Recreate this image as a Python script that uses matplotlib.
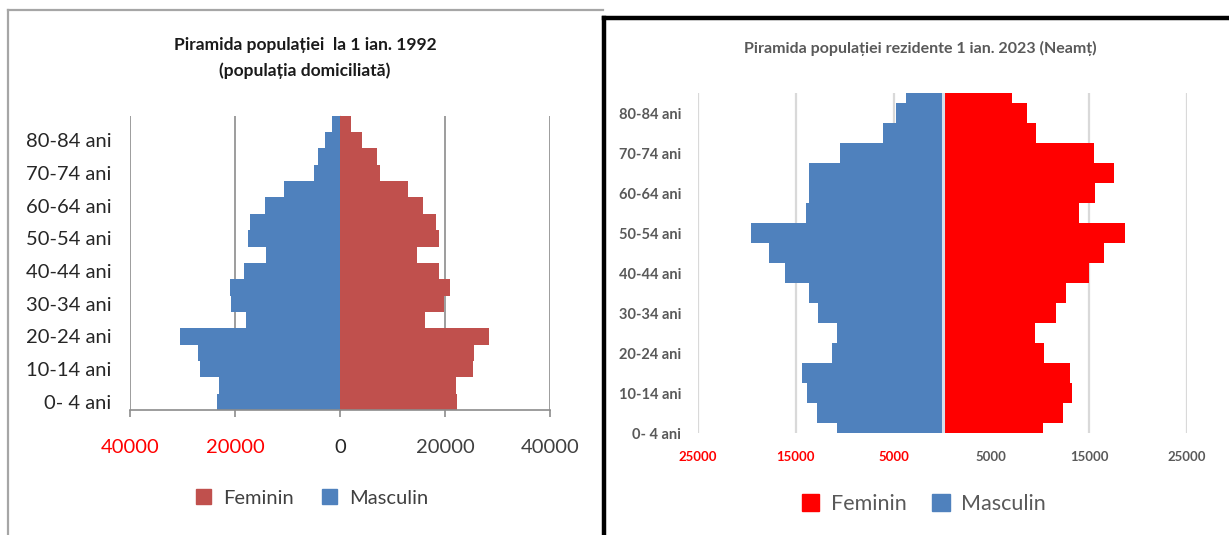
import matplotlib
matplotlib.use("Agg")
import matplotlib.pyplot as plt
from matplotlib.patches import Patch
from matplotlib.lines import Line2D

# ---------------- data ----------------
age_groups = ["0- 4 ani", "5-9 ani", "10-14 ani", "15-19 ani", "20-24 ani", "25-29 ani",
              "30-34 ani", "35-39 ani", "40-44 ani", "45-49 ani", "50-54 ani", "55-59 ani",
              "60-64 ani", "65-69 ani", "70-74 ani", "75-79 ani", "80-84 ani", "85+ ani"]

masc_1992 = [23500, 23100, 26600, 27000, 30500, 17900, 20700, 21000, 18300,
             14100, 17500, 17200, 14200, 10600, 5000, 4250, 2900, 1500]
fem_1992 = [22350, 22050, 25350, 25550, 28400, 16200, 19750, 21000, 18900,
            14700, 18900, 18200, 15800, 12900, 7700, 7000, 4250, 2100]

masc_2023 = [10800, 12880, 13900, 14350, 11310, 10770, 12680, 13600, 16150,
             17750, 19560, 13970, 13700, 13600, 10430, 6100, 4770, 3700]
fem_2023 = [10310, 12290, 13270, 13000, 10350, 9490, 11600, 12660, 14980,
            16550, 18700, 13960, 15560, 17540, 15460, 9560, 8640, 7070]

xticks_1992 = [-40000, -20000, 0, 20000, 40000]
xticklabels_1992 = ["40000", "20000", "0", "20000", "40000"]
xticks_2023 = [-25000, -15000, -5000, 5000, 15000, 25000]
xticklabels_2023 = ["25000", "15000", "5000", "5000", "15000", "25000"]

title_1992 = "Piramida populației  la 1 ian. 1992\n(populația domiciliată)"
title_2023 = "Piramida populației rezidente 1 ian. 2023 (Neamț)"

# ---------------- figure ----------------
W, H = 1229, 535
fig = plt.figure(figsize=(W / 100, H / 100), dpi=100)
fig.patch.set_facecolor("white")
plt.rcParams["font.family"] = ["Lato", "DejaVu Sans"]


def px_axes(x0, y0, x1, y1):
    return fig.add_axes([x0 / W, 1 - y1 / H, (x1 - x0) / W, (y1 - y0) / H])


ypos = list(range(len(age_groups)))

# ---------- left chart (1992) ----------
ax1 = px_axes(130, 115.7, 550, 410)
c_fem1, c_masc1 = "#C0504D", "#4F81BD"
ax1.barh(ypos, [-v for v in masc_1992], height=1.0, color=c_masc1, linewidth=0, zorder=2)
ax1.barh(ypos, fem_1992, height=1.0, color=c_fem1, linewidth=0, zorder=2)
ax1.set_xlim(-40000, 40000)
ax1.set_ylim(-0.5, len(age_groups) - 0.5)
for s in ["top", "right", "left"]:
    ax1.spines[s].set_visible(False)
ax1.spines["bottom"].set_color("#8C8C8C")
ax1.spines["bottom"].set_linewidth(1.2)
ax1.set_xticks(xticks_1992)
ax1.set_xticklabels(xticklabels_1992, fontsize=14.5)
ax1.tick_params(axis="x", direction="out", length=5, color="#8C8C8C", width=1.2, pad=16)
cols1 = ["#FF0000", "#FF0000", "#262626", "#404040", "#404040"]
for lab, c in zip(ax1.get_xticklabels(), cols1):
    lab.set_color(c)
ax1.set_yticks(ypos[::2])
ax1.set_yticklabels(age_groups[::2], fontsize=14.5, color="#262626")
ax1.tick_params(axis="y", length=0, pad=13.5)
for x in [-40000, -20000, 20000, 40000]:
    ax1.axvline(x, color="#8C8C8C", lw=1.2, zorder=1)
sec1 = ax1.secondary_yaxis(0.5)
sec1.set_yticks([p + 0.5 for p in ypos[:-1]])
sec1.set_yticklabels([])
sec1.tick_params(axis="y", direction="out", length=5, color="#8C8C8C", width=1.2)
sec1.spines["left"].set_color("#8C8C8C")
sec1.spines["left"].set_linewidth(1.2)

fig.text(305 / W, 1 - 58 / H, title_1992, ha="center", va="center", fontsize=12.5,
         fontweight="bold", color="#1A1A1A", linespacing=1.65)

leg1 = fig.legend(handles=[Patch(color=c_fem1, label="Feminin"),
                           Patch(color=c_masc1, label="Masculin")],
                  loc="center", bbox_to_anchor=(312 / W, 1 - 498 / H), ncol=2,
                  frameon=False, fontsize=14.5, handlelength=0.75, handleheight=0.75,
                  handletextpad=0.6, columnspacing=1.4)
for t in leg1.get_texts():
    t.set_color("#404040")

# ---------- right chart (2023) ----------
ax2 = px_axes(698, 93.3, 1187, 433.3)
c_fem2, c_masc2 = "#FF0000", "#4F81BD"
ax2.barh(ypos, [-v for v in masc_2023], height=1.0, color=c_masc2, linewidth=0, zorder=2)
ax2.barh(ypos, fem_2023, height=1.0, color=c_fem2, linewidth=0, zorder=2)
ax2.axvline(0, color="#D6DFEC", lw=2.2, zorder=3)
ax2.set_xlim(-25000, 25000)
ax2.set_ylim(0, len(age_groups) - 1)
for s in ax2.spines.values():
    s.set_visible(False)
ax2.set_xticks(xticks_2023)
ax2.set_xticklabels(xticklabels_2023, fontsize=9.5, fontweight="bold")
ax2.tick_params(axis="x", length=0, pad=13)
cols2 = ["#FF0000", "#FF0000", "#FF0000", "#595959", "#595959", "#595959"]
for lab, c in zip(ax2.get_xticklabels(), cols2):
    lab.set_color(c)
ax2.grid(axis="x", color="#D9D9D9", lw=1.6, zorder=0)
ax2.set_axisbelow(True)
ax2.set_yticks(ypos[::2])
ax2.set_yticklabels(age_groups[::2], fontsize=10.5, fontweight="bold", color="#595959")
ax2.tick_params(axis="y", length=0, pad=12)

fig.text(920 / W, 1 - 48 / H, title_2023, ha="center", va="center", fontsize=11.5,
         fontweight="bold", color="#595959")

leg2 = fig.legend(handles=[Patch(color=c_fem2, label="Feminin"),
                           Patch(color=c_masc2, label="Masculin")],
                  loc="center", bbox_to_anchor=(924 / W, 1 - 504 / H), ncol=2,
                  frameon=False, fontsize=15.5, handlelength=0.8, handleheight=0.8,
                  handletextpad=0.55, columnspacing=1.2)
for t in leg2.get_texts():
    t.set_color("#595959")

# ---------- panel frames ----------
def fig_line(xs, ys, **kw):
    fig.add_artist(Line2D([x / W for x in xs], [1 - y / H for y in ys],
                          transform=fig.transFigure, **kw))

fig_line([7.5, 7.5], [H + 2, 10], color="#A6A6A6", lw=1.6)
fig_line([7.5, 603], [10, 10], color="#A6A6A6", lw=1.6)
fig_line([603.5, 603.5], [H + 2, 17.5], color="black", lw=3.2, solid_capstyle="projecting")
fig_line([603.5, W + 2], [17.5, 17.5], color="black", lw=3.2, solid_capstyle="projecting")

fig.savefig("out.png", dpi=100, facecolor="white")
